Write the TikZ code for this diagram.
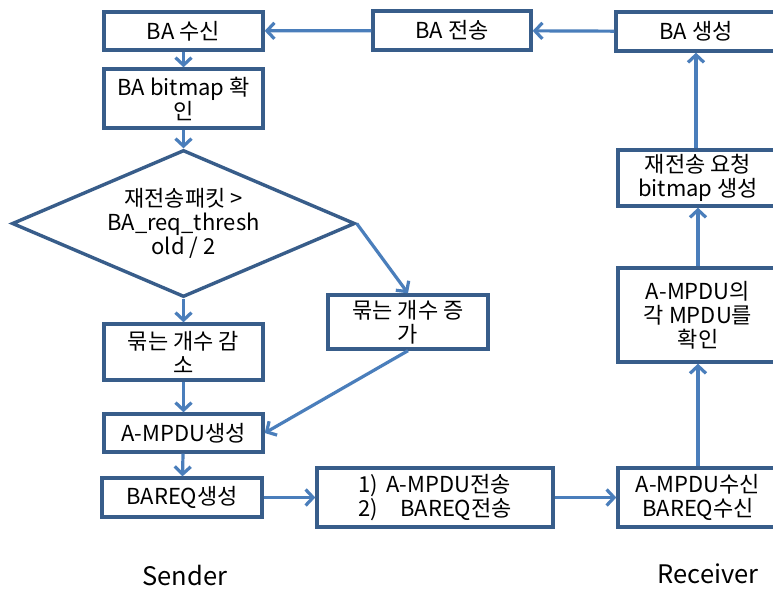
\documentclass[tikz,border=0pt]{standalone}
\usepackage{fontspec}
\setmainfont{Noto Sans CJK KR}
\usetikzlibrary{shapes.geometric,arrows.meta}
\definecolor{bordc}{HTML}{385D8A}
\definecolor{arrc}{HTML}{4A7EBB}
\begin{document}
\begin{tikzpicture}[x=1pt,y=-1pt,
  box/.style={draw=bordc,line width=3.4pt,fill=white,inner sep=0pt,align=center,
    font=\fontsize{22}{24}\selectfont},
  dia/.style={draw=bordc,line width=3.4pt,fill=white,shape=diamond,shape aspect=2.333,inner sep=0pt,
    align=center,font=\fontsize{22}{24}\selectfont},
  conn/.style={draw=arrc,line width=3.2pt,-{Straight Barb[length=7.5pt,width=16pt,line width=3.2pt]}},
  lbl/.style={font=\fontsize{25.5}{28}\selectfont}]
\useasboundingbox (0,0) rectangle (773,589);
\fill[white] (0,0) rectangle (773,589);
\node[box,minimum width=159pt,minimum height=38pt] (rx) at (183.5,31) {BA 수신};
\node[box,minimum width=159pt,minimum height=59pt] (bm) at (183.5,98.5) {BA bitmap 확\\인};
\node[dia,minimum width=343pt,minimum height=147pt] (dc) at (183.5,223.5) {재전송패킷 >\\BA\_req\_thresh\\old / 2};
\node[box,minimum width=159pt,minimum height=56pt] (dec) at (183.5,352) {묶는 개수 감\\소};
\node[box,minimum width=159pt,minimum height=38pt] (amg) at (183.5,433) {A-MPDU생성};
\node[box,minimum width=160pt,minimum height=39pt] (brq) at (182,497.5) {BAREQ생성};
\node[box,minimum width=160pt,minimum height=54pt] (inc) at (408,322) {묶는 개수 증\\가};
\node[box,minimum width=236pt,minimum height=59pt,align=left] (tx) at (435,497.5) {\makebox[28pt][l]{1)}A-MPDU전송\\\makebox[28pt][l]{2)}\hspace{14pt}BAREQ전송};
\node[box,minimum width=160pt,minimum height=59pt] (rcv) at (698,497.5) {A-MPDU수신\\BAREQ수신};
\node[box,minimum width=160pt,minimum height=94pt] (chk) at (698,315) {A-MPDU의\\각 MPDU를\\확인};
\node[box,minimum width=160pt,minimum height=56pt] (req) at (698,178) {재전송 요청\\bitmap 생성};
\node[box,minimum width=160pt,minimum height=39pt] (bag) at (696,31.5) {BA 생성};
\node[box,minimum width=158pt,minimum height=39pt] (bat) at (452,30.5) {BA 전송};
\node[lbl] (snd) at (185,576) {Sender};
\node[lbl] (rcvl) at (708,574) {Receiver};
\draw[conn] (bag) -- (bat);
\draw[conn] (bat) -- (rx);
\draw[conn] (rx) -- (bm);
\draw[conn] (bm) -- (dc);
\draw[conn] (dc) -- (dec);
\draw[conn] (dc.east) -- (inc.north);
\draw[conn] (dec) -- (amg);
\draw[conn] (inc.south) -- (amg.east);
\draw[conn] (amg) -- (brq);
\draw[conn] (brq) -- (tx);
\draw[conn] (tx) -- (rcv);
\draw[conn] (rcv) -- (chk);
\draw[conn] (chk) -- (req);
\draw[conn] (req.north -| bag) -- (bag);
\end{tikzpicture}
\end{document}
